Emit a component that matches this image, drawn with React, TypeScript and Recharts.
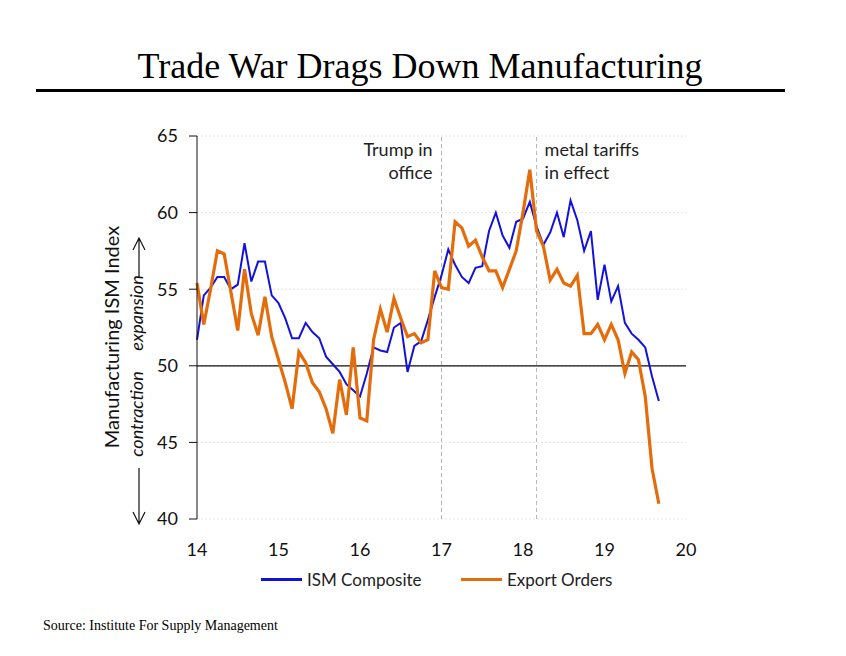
import React from "react";
import { LineChart, Line, XAxis, YAxis, CartesianGrid, ReferenceLine, Legend } from "recharts";

// monthly readings, Jan 2014 .. Sep 2019
const ismComposite = [
  51.7, 54.6, 55.1, 55.8, 55.8, 55.0, 55.3, 58.0, 55.5, 56.8, 56.8, 54.6,
  54.1, 53.1, 51.8, 51.8, 52.8, 52.2, 51.8, 50.6, 50.1, 49.6, 48.8, 48.4,
  48.0, 49.5, 51.2, 51.0, 50.9, 52.5, 52.8, 49.6, 51.3, 51.6, 53.0, 54.5,
  55.9, 57.6, 56.6, 55.8, 55.4, 56.4, 56.5, 58.8, 60.0, 58.5, 57.7, 59.4,
  59.6, 60.7, 59.1, 57.9, 58.7, 60.0, 58.4, 60.8, 59.5, 57.5, 58.8, 54.3,
  56.6, 54.2, 55.2, 52.8, 52.1, 51.7, 51.2, 49.3, 47.7,
];

const exportOrders = [
  55.4, 52.7, 55.0, 57.5, 57.3, 54.8, 52.3, 56.3, 53.4, 52.0, 54.5, 51.9,
  50.4, 48.9, 47.2, 50.9, 50.2, 48.9, 48.3, 47.2, 45.6, 49.1, 46.8, 51.2,
  46.6, 46.4, 51.7, 53.7, 52.2, 54.4, 53.1, 51.9, 52.1, 51.5, 51.7, 56.2,
  55.1, 55.0, 59.4, 59.0, 57.8, 58.2, 57.1, 56.2, 56.2, 55.1, 56.3, 57.5,
  60.0, 62.8, 58.8, 57.8, 55.6, 56.3, 55.4, 55.2, 55.9, 52.1, 52.1, 52.7,
  51.7, 52.7, 51.7, 49.5, 50.9, 50.4, 48.0, 43.3, 41.0,
];

const startYear = 14; // series begins January 2014
const yearTicks = [14, 15, 16, 17, 18, 19, 20];
const valueTicks = [40, 45, 50, 55, 60, 65];

const series = [
  { key: "ism", name: "ISM Composite", color: "#1212dc", width: 2 },
  { key: "exports", name: "Export Orders", color: "#e46c0a", width: 3.2 },
];

const events = [
  { at: 17, lines: ["Trump in", "office"], side: "left" },
  { at: 18 + 2 / 12, lines: ["metal tariffs", "in effect"], side: "right" },
];

const data = ismComposite.map((v, i) => ({
  t: startYear + i / 12,
  ism: v,
  exports: exportOrders[i],
}));

const SANS = "Lato, 'Open Sans', sans-serif";
const SERIF = "'Liberation Serif', 'Times New Roman', serif";

const EventLabel = ({ viewBox, lines, side }: any) => {
  const x = viewBox.x + (side === "left" ? -9 : 8);
  return (
    <text x={x} y={viewBox.y + 20} textAnchor={side === "left" ? "end" : "start"} fontFamily={SANS} fontSize={18} fill="#222">
      {lines.map((l: string, i: number) => (
        <tspan key={l} x={x} dy={i === 0 ? 0 : 23}>{l}</tspan>
      ))}
    </text>
  );
};

// legend follows the series list order (recharts sorts its payload by name)
const renderLegend = () => {
  const lefts = [261, 461];
  return (
    <div style={{ position: "relative", height: 24, fontFamily: SANS, fontSize: 17, color: "#222" }}>
      {series.map((s, i) => (
        <div key={s.key} style={{ position: "absolute", left: lefts[i], top: 0, height: 24, display: "flex", alignItems: "center" }}>
          <span style={{ display: "inline-block", width: 41, height: 3, background: s.color, marginRight: 5 }} />
          <span>{s.name}</span>
        </div>
      ))}
    </div>
  );
};

function AxisTitle() {
  return (
    <svg width={60} height={420} style={{ position: "absolute", left: 95, top: 120, overflow: "visible" }}>
      <g transform="translate(-95,-120)" fill="#111" fontFamily={SANS}>
        <text transform="translate(119,337) rotate(-90)" textAnchor="middle" fontSize={20}>Manufacturing ISM Index</text>
        <text transform="translate(143,414) rotate(-90)" textAnchor="middle" fontSize={18} fontStyle="italic">contraction</text>
        <text transform="translate(143,313) rotate(-90)" textAnchor="middle" fontSize={18} fontStyle="italic">expansion</text>
        <g stroke="#111" strokeWidth={1.2} fill="none">
          <path d="M139,468 L139,524 M133,512 L139,524 L145,512" />
          <path d="M139,278 L139,238 M133,250 L139,238 L145,250" />
        </g>
      </g>
    </svg>
  );
}

export default function App() {
  return (
    <div style={{ position: "absolute", left: 0, top: 0, width: 846, height: 656, background: "#fff" }}>
      <div style={{ position: "absolute", left: -3, top: 48, width: 846, textAlign: "center", fontFamily: SERIF, fontSize: 36, lineHeight: "36px", color: "#000" }}>
        Trade War Drags Down Manufacturing
      </div>
      <div style={{ position: "absolute", left: 36, top: 89, width: 749, height: 3, background: "#000" }} />

      <LineChart width={846} height={656} data={data} margin={{ top: 136, right: 160, bottom: 65, left: 140 }}>
        <CartesianGrid vertical={false} stroke="#e4e4e4" strokeDasharray="2 2" />
        <XAxis
          dataKey="t"
          type="number"
          domain={[14, 20]}
          ticks={yearTicks}
          axisLine={false}
          tickLine={false}
          tickMargin={18}
          height={48}
          tick={{ fontFamily: SANS, fontSize: 18, fill: "#111" }}
        />
        <YAxis
          domain={[40, 65]}
          ticks={valueTicks}
          width={57}
          axisLine={{ stroke: "#111" }}
          tickLine={{ stroke: "#111" }}
          tickSize={8}
          tickMargin={11}
          tick={{ fontFamily: SANS, fontSize: 18, fill: "#111" }}
        />
        <ReferenceLine y={50} stroke="#111" strokeWidth={1.2} />
        {events.map((e) => (
          <ReferenceLine
            key={e.at}
            x={e.at}
            stroke="#b5b5b5"
            strokeDasharray="4 3"
            label={(p: any) => <EventLabel {...p} lines={e.lines} side={e.side} />}
          />
        ))}
        <Legend verticalAlign="bottom" height={24} content={renderLegend} wrapperStyle={{ left: 0, width: 846 }} />
        {series.map((s) => (
          <Line key={s.key} dataKey={s.key} name={s.name} stroke={s.color} strokeWidth={s.width} dot={false} isAnimationActive={false} />
        ))}
      </LineChart>

      <AxisTitle />
      <div style={{ position: "absolute", left: 43, top: 619, fontFamily: SERIF, fontSize: 14, lineHeight: "14px", color: "#000" }}>
        Source: Institute For Supply Management
      </div>
    </div>
  );
}
